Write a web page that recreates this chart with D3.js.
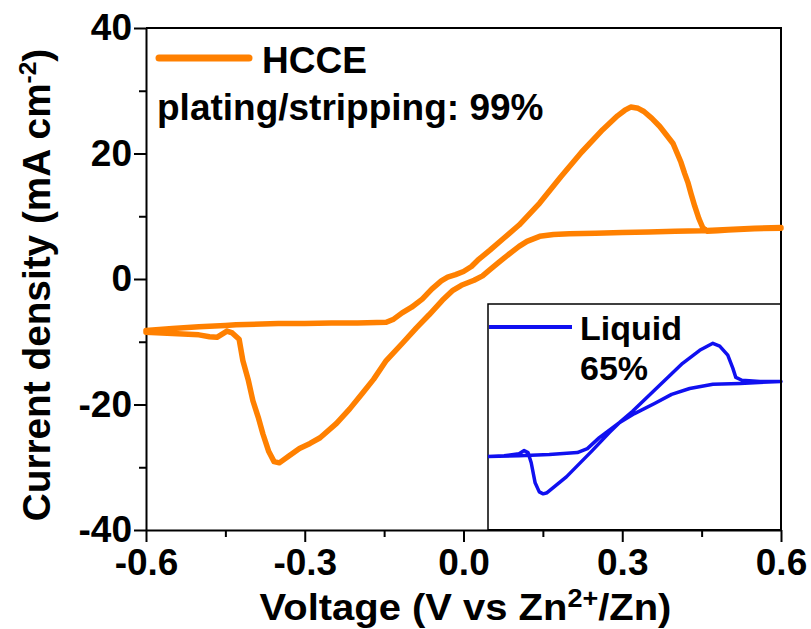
<!DOCTYPE html>
<html>
<head>
<meta charset="utf-8">
<script src="https://cdn.jsdelivr.net/npm/d3@7/dist/d3.min.js"></script>
<style>
  html, body { margin: 0; padding: 0; background: #fff; }
  svg { display: block; }
  text { font-family: "Liberation Sans", Arial, sans-serif; font-weight: bold; fill: #000; }
</style>
</head>
<body>
<svg id="chart" width="811" height="629"></svg>
<script>
// Cyclic voltammogram, HCCE electrolyte (V vs Zn2+/Zn, mA cm-2)
const hcceVoltage = [
  0.60, 0.55, 0.50, 0.45, 0.40, 0.35, 0.30, 0.25, 0.20, 0.17, 0.144, 0.12, 0.105, 0.085, 0.066, 0.05,
  0.036, 0.02, -0.004, -0.02, -0.04, -0.065, -0.089, -0.115, -0.146, -0.17, -0.191, -0.215, -0.24,
  -0.271, -0.29, -0.31, -0.33, -0.348, -0.358, -0.368, -0.379, -0.388, -0.398, -0.407, -0.417, -0.424,
  -0.437, -0.447, -0.466, -0.48, -0.50, -0.55, -0.60,
  -0.60, -0.55, -0.50, -0.45, -0.43, -0.35, -0.30, -0.25, -0.20, -0.146, -0.132, -0.116, -0.098, -0.078,
  -0.06, -0.042, -0.03, -0.015, 0.0, 0.015, 0.027, 0.05, 0.076, 0.105, 0.144, 0.184, 0.223, 0.263,
  0.291, 0.305, 0.316, 0.330, 0.341, 0.356, 0.371, 0.385, 0.396, 0.404, 0.411, 0.418, 0.424, 0.430,
  0.437, 0.445, 0.452, 0.460, 0.48, 0.50, 0.55, 0.60
];
const hcceCurrent = [
  8.2, 8.1, 7.9, 7.7, 7.6, 7.5, 7.4, 7.3, 7.2, 7.1, 6.8, 6.0, 5.2, 3.9, 2.6, 1.5,
  0.5, -0.2, -1.0, -1.8, -3.4, -5.7, -7.8, -10.2, -13.0, -16.0, -18.2, -20.7, -23.0,
  -25.3, -26.2, -27.0, -28.2, -29.3, -29.1, -27.5, -24.7, -22.0, -19.4, -16.0, -13.0, -9.6,
  -8.6, -8.3, -9.3, -9.2, -8.9, -8.7, -8.5,
  -8.2, -7.9, -7.6, -7.4, -7.3, -7.1, -7.1, -7.0, -7.0, -6.9, -6.4, -5.4, -4.5, -3.2,
  -1.6, -0.3, 0.3, 0.7, 1.2, 2.0, 3.0, 4.6, 6.5, 8.6, 12.1, 16.3, 20.2, 23.8,
  26.0, 26.9, 27.4, 27.2, 26.7, 25.6, 24.3, 22.8, 21.6, 20.0, 18.6, 16.8, 15.4, 13.6,
  11.6, 9.6, 8.2, 7.6, 7.7, 7.8, 8.0, 8.1
];

// Liquid electrolyte, drawn in the inset
const liquidVoltage = [
  -0.60, -0.534, -0.473, -0.452, -0.436, -0.423, -0.407, -0.390, -0.374, -0.358, -0.279, -0.173,
  -0.103, -0.062, -0.008, 0.103, 0.197, 0.267, 0.321, 0.349, 0.382, 0.403, 0.415, 0.440, 0.514, 0.60,
  0.60, 0.432, 0.321, 0.226, 0.152, 0.082, 0.0, -0.062, -0.144, -0.193, -0.234, -0.349, -0.473, -0.60
];
const liquidCurrent = [
  -14.0, -13.7, -13.0, -11.9, -12.6, -16.2, -23.3, -26.5, -27.2, -26.8, -21.2, -11.9,
  -5.5, -2.0, 2.0, 11.2, 19.0, 23.6, 26.1, 25.1, 21.9, 17.2, 14.0, 13.0, 12.6, 12.6,
  12.6, 11.9, 11.6, 10.1, 8.0, 4.8, 1.2, -2.0, -7.3, -11.2, -12.6, -13.3, -13.7, -14.0
];

const xTicks = [-0.6, -0.3, 0.0, 0.3, 0.6];
const xMinorTicks = [-0.45, -0.15, 0.15, 0.45];
const yTicks = [-40, -20, 0, 20, 40];
const yMinorTicks = [-30, -10, 10, 30];

const hcceColor = "#ff8000";
const liquidColor = "#1010f0";

const svg = d3.select("#chart");
const plot = { left: 146, right: 781, top: 28, bottom: 530 };

const x = d3.scaleLinear().domain([-0.6, 0.6]).range([plot.left, plot.right]);
const y = d3.scaleLinear().domain([-40, 40]).range([plot.bottom, plot.top]);

const fmt = v => d3.format(".1f")(v).replace("\u2212", "-");
const fmtY = v => String(v);

// Minor ticks
svg.append("g")
  .attr("transform", `translate(0,${plot.bottom})`)
  .call(d3.axisBottom(x).tickValues(xMinorTicks).tickSize(7).tickFormat(""))
  .call(g => g.select(".domain").remove())
  .call(g => g.selectAll("line").attr("stroke-width", 2));
svg.append("g")
  .attr("transform", `translate(${plot.left},0)`)
  .call(d3.axisLeft(y).tickValues(yMinorTicks).tickSize(7).tickFormat(""))
  .call(g => g.select(".domain").remove())
  .call(g => g.selectAll("line").attr("stroke-width", 2));

// Major axes
const xAxis = svg.append("g")
  .attr("transform", `translate(0,${plot.bottom})`)
  .call(d3.axisBottom(x).tickValues(xTicks).tickSize(12).tickSizeOuter(0).tickPadding(7).tickFormat(fmt));
const yAxis = svg.append("g")
  .attr("transform", `translate(${plot.left},0)`)
  .call(d3.axisLeft(y).tickValues(yTicks).tickSize(12).tickSizeOuter(0).tickPadding(2).tickFormat(fmtY));

[xAxis, yAxis].forEach(g => {
  g.select(".domain").attr("stroke-width", 2);
  g.selectAll(".tick line").attr("stroke-width", 2);
  g.selectAll(".tick text")
    .attr("font-family", "'Liberation Sans', Arial, sans-serif")
    .attr("font-weight", "bold")
    .attr("font-size", 37)
    .attr("fill", "#000");
});

// Top and right frame
svg.append("path")
  .attr("d", `M${plot.left},${plot.top}H${plot.right}V${plot.bottom}`)
  .attr("fill", "none").attr("stroke", "#000").attr("stroke-width", 2);

// HCCE curve
const hcceData = hcceVoltage.map((v, i) => [v, hcceCurrent[i]]);
const line = d3.line().x(d => x(d[0])).y(d => y(d[1]));
svg.append("path")
  .datum(hcceData)
  .attr("d", line)
  .attr("fill", "none")
  .attr("stroke", hcceColor)
  .attr("stroke-width", 5.5)
  .attr("stroke-linejoin", "round")
  .attr("stroke-linecap", "round");

// Legend
svg.append("line")
  .attr("x1", 159).attr("x2", 249).attr("y1", 58).attr("y2", 58)
  .attr("stroke", hcceColor).attr("stroke-width", 7).attr("stroke-linecap", "round");
svg.append("text").attr("x", 262).attr("y", 73).attr("font-size", 37).text("HCCE");
svg.append("text").attr("x", 157).attr("y", 120).attr("font-size", 37).text("plating/stripping: 99%");

// Inset
const inset = { left: 488, right: 781, top: 304, bottom: 530 };
svg.append("rect")
  .attr("x", inset.left).attr("y", inset.top)
  .attr("width", inset.right - inset.left).attr("height", inset.bottom - inset.top)
  .attr("fill", "#fff").attr("stroke", "#000").attr("stroke-width", 1.5);

const xi = d3.scaleLinear().domain([-0.6, 0.6]).range([inset.left, inset.right]);
const yi = d3.scaleLinear().domain([-40, 40]).range([inset.bottom, inset.top]);
const liquidData = liquidVoltage.map((v, i) => [v, liquidCurrent[i]]);
svg.append("path")
  .datum(liquidData)
  .attr("d", d3.line().x(d => xi(d[0])).y(d => yi(d[1])))
  .attr("fill", "none")
  .attr("stroke", liquidColor)
  .attr("stroke-width", 3.5)
  .attr("stroke-linejoin", "round");

svg.append("line")
  .attr("x1", inset.left + 1).attr("x2", 572).attr("y1", 327).attr("y2", 327)
  .attr("stroke", liquidColor).attr("stroke-width", 4);
svg.append("text").attr("x", 580).attr("y", 340).attr("font-size", 34).text("Liquid");
svg.append("text").attr("x", 580).attr("y", 380).attr("font-size", 34).text("65%");

// Redraw the shared right/bottom border over the inset
svg.append("path")
  .attr("d", `M${plot.right},${inset.top - 2}V${plot.bottom}H${inset.left}`)
  .attr("fill", "none").attr("stroke", "#000").attr("stroke-width", 2);

// Axis titles (set slightly wide)
const xTitle = svg.append("text")
  .attr("transform", `translate(${(plot.left + plot.right) / 2 + 2},620) scale(1.08,1)`)
  .attr("text-anchor", "middle").attr("font-size", 37);
xTitle.append("tspan").text("Voltage (V vs Zn");
xTitle.append("tspan").attr("font-size", 25).attr("dy", -13).text("2+");
xTitle.append("tspan").attr("dy", 13).text("/Zn)");

const yTitle = svg.append("text")
  .attr("transform", `translate(50,285) rotate(-90) scale(1.02,1)`)
  .attr("text-anchor", "middle").attr("font-size", 38);
yTitle.append("tspan").text("Current density (mA cm");
yTitle.append("tspan").attr("font-size", 24).attr("dy", -14).text("-2");
yTitle.append("tspan").attr("dy", 14).text(")");
</script>
</body>
</html>
